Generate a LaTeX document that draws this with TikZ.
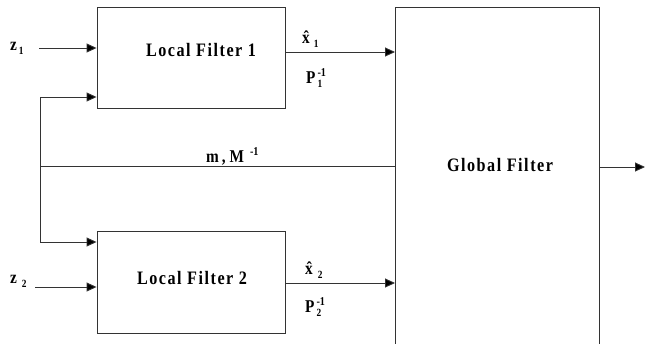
\documentclass[tikz,border=0pt]{standalone}
\usepackage{fontspec}
\setmainfont{Liberation Serif}
\newfontfamily\narrowserif[FakeStretch=0.85]{Liberation Serif}
\usetikzlibrary{arrows.meta, positioning}

\tikzstyle{filterbox} = [
    rectangle,
    draw=black!80,
    line width=0.9pt,
    inner sep=0pt
]
\tikzstyle{boxtext} = [
    inner sep=0pt,
    font=\narrowserif\fontsize{19}{22}\selectfont\bfseries\addfontfeature{LetterSpace=8}
]
\tikzstyle{sig} = [
    inner sep=0pt,
    font=\narrowserif\fontsize{18}{20}\selectfont\bfseries
]
\tikzstyle{line} = [draw=black!80, line width=0.9pt]
\tikzstyle{arrow} = [line, -{Triangle[length=10pt,width=9pt,fill=black]}]

% small indices below and above a letter
\newcommand{\lo}[1]{\raisebox{-0.6ex}{\fontsize{11}{12}\selectfont #1}}
\newcommand{\hi}[1]{\raisebox{0.8ex}{\fontsize{12}{12}\selectfont #1}}
\newcommand{\Pinv}[1]{P\kern2pt\rlap{\lo{#1}}\hi{-1}}

\begin{document}
\begin{tikzpicture}[x=1pt, y=-1pt]
\useasboundingbox (0,0) rectangle (645,343);
\clip (0,0) rectangle (645,343);

% filters
\node (lf1) [filterbox, minimum width=188pt, minimum height=101pt] at (191,57.5) {};
\node (lf2) [filterbox, minimum width=188pt, minimum height=102pt, below=123pt of lf1] {};
\node (gf) [filterbox, minimum width=204pt, minimum height=350pt, anchor=north west] at (395,7) {};

\node (lf1name) [boxtext] at (201,50) {Local Filter 1};
\node (lf2name) [boxtext] at (192,277.5) {Local Filter 2};
\node (gfname) [boxtext] at (500,165) {Global Filter};

% measurements and signals
\node (z1) [sig, anchor=base west] at (10,50) {z\kern2pt\lo{1}};
\node (z2) [sig, anchor=base west] at (10,283) {z\kern5pt\lo{2}};
\node (x1) [sig, anchor=base west] at (302,43) {\^{x}\kern4pt\lo{1}};
\node (p1) [sig, anchor=base west] at (306,83) {\Pinv{1}};
\node (x2) [sig, anchor=base west] at (305,274) {\^{x}\kern5pt\lo{2}};
\node (p2) [sig, anchor=base west] at (305,312) {\Pinv{2}};
\node (mM) [sig, anchor=base west] at (206,162) {m\kern3pt, M\kern6pt\hi{-1}};

\coordinate (z1in) at (39,48);
\coordinate (z2in) at (35,287);
\coordinate (split) at (40,166);
\coordinate (out) at (645,167);

\draw [arrow] (z1in) -- (lf1.west |- z1in);
\draw [arrow] (z2in) -- (lf2.west |- z2in);
\draw [line] (gf.west |- split) -- (split);
\draw [arrow] (split) |- (lf1.west |- 0,97);
\draw [arrow] (split) |- (lf2.west |- 0,242);
\draw [arrow] (lf1.east |- 0,52) -- (gf.west |- 0,52);
\draw [arrow] (lf2.east |- 0,283) -- (gf.west |- 0,283);
\draw [arrow] (gf.east |- out) -- (out);

\end{tikzpicture}
\end{document}
